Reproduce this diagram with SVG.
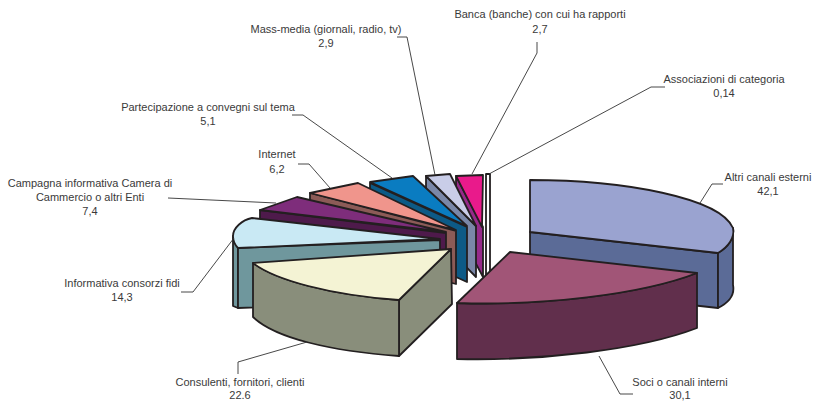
<svg xmlns="http://www.w3.org/2000/svg" width="813" height="402" viewBox="0 0 813 402">
  <style>
    .face { stroke: #231f20; stroke-width: 1.8; stroke-linejoin: round; }
    .lead { fill: none; stroke: #333; stroke-width: 0.9; }
    .lbl { font-family: "Liberation Sans", Arial, sans-serif; font-size: 11px; fill: #3a3a3a; text-anchor: middle; }
  </style>
  <rect width="813" height="402" fill="#ffffff"/>

  <!-- exploded 3D pie slices, drawn back to front -->
  <g id="slice-associazioni">
    <path class="face" d="M486,174 L490,174 L490,277 L486,277 Z" fill="#ffffff"/>
  </g>
  <g id="slice-banca">
    <path class="face" d="M456,176 L483,227 L483,277 L456,226 Z" fill="#962a8a"/>
    <path class="face" d="M456,176 L483,175 L482,227 Z" fill="#e91a8b"/>
  </g>
  <g id="slice-massmedia">
    <path class="face" d="M426,176 L476,226 L476,277 L426,226 Z" fill="#7a87a8"/>
    <path class="face" d="M426,176 L450,174 L476,226 Z" fill="#c9cde8"/>
  </g>
  <g id="slice-partecipazione">
    <path class="face" d="M370,183 L467,227 L467,282 L370,238 Z" fill="#0d5a86"/>
    <path class="face" d="M370,182 L413,176 L467,226 Z" fill="#0a7cc1"/>
  </g>
  <g id="slice-internet">
    <path class="face" d="M310,193 L456,231 L456,284 L310,247 Z" fill="#8c5b57"/>
    <path class="face" d="M310,193 L358,183 L456,230 Z" fill="#f0958c"/>
  </g>
  <g id="slice-campagna">
    <path class="face" d="M260,210 L446,233 L446,288 L260,265 Z" fill="#4e1a4b"/>
    <path class="face" d="M260,210 L297,197 L446,232 Z" fill="#7e2d7b"/>
  </g>
  <g id="slice-informativa">
    <path class="face" d="M233,236 L238,248 L238,308 L233,306 Z" fill="#6f979d"/>
    <path class="face" d="M238,248 L440,240 L440,300 L238,308 Z" fill="#6f979d"/>
    <path class="face" d="M252,218 L440,239 L238,248 C235,245 233,240 233,236 C233,228 242,220 252,218 Z" fill="#c9e9f4"/>
  </g>
  <g id="slice-consulenti">
    <path class="face" d="M399,300 L451,249 L452,304 L399,356 Z" fill="#898e7b"/>
    <path class="face" d="M253,263 C275,280 330,295 399,300 L399,356 C330,351 275,338 253,317 Z" fill="#898e7b"/>
    <path class="face" d="M253,263 L451,249 L399,300 C330,295 275,280 253,263 Z" fill="#f4f3d4"/>
  </g>
  <g id="slice-altri">
    <path class="face" d="M530,232 L718,253 L718,308 L530,287 Z" fill="#5b6b97"/>
    <path class="face" d="M718,253 C728,247 735,238 733,228 L733,285 C735,295 728,303 718,308 Z" fill="#5b6b97"/>
    <path class="face" d="M530,180 C625,180 720,198 733,228 C735,238 728,247 718,253 L530,232 Z" fill="#9aa3d0"/>
  </g>
  <g id="slice-soci">
    <path class="face" d="M457,303 C540,306 640,295 697,273 L697,328 C640,350 540,361 457,359 Z" fill="#612f4c"/>
    <path class="face" d="M510,252 L697,273 C640,295 540,306 457,303 Z" fill="#a15577"/>
  </g>

  <!-- leader lines -->
  <g id="connectors">
    <path class="lead" d="M397,37 L407,37 L435,175"/>
    <path class="lead" d="M537,42 L537,53 L472,174"/>
    <path class="lead" d="M665,87 L651,87 L489,174"/>
    <path class="lead" d="M723,184 L712,184 L700,203"/>
    <path class="lead" d="M292,115 L303,115 L392,178"/>
    <path class="lead" d="M298,164 L309,164 L330,188"/>
    <path class="lead" d="M168,198 L276,203"/>
    <path class="lead" d="M181,292 L193,292 L234,238"/>
    <path class="lead" d="M238,374 L238,362 L307,342"/>
    <path class="lead" d="M633,394 L620,394 L599,356"/>
  </g>

  <!-- labels -->
  <g id="labels">
    <text class="lbl" x="326" y="33">Mass-media (giornali, radio, tv)</text>
    <text class="lbl" x="326" y="47">2,9</text>
    <text class="lbl" x="540" y="18">Banca (banche) con cui ha rapporti</text>
    <text class="lbl" x="540" y="33">2,7</text>
    <text class="lbl" x="724" y="83">Associazioni di categoria</text>
    <text class="lbl" x="724" y="97">0,14</text>
    <text class="lbl" x="768" y="181">Altri canali esterni</text>
    <text class="lbl" x="768" y="195">42,1</text>
    <text class="lbl" x="208" y="111">Partecipazione a convegni sul tema</text>
    <text class="lbl" x="208" y="125">5,1</text>
    <text class="lbl" x="277" y="158">Internet</text>
    <text class="lbl" x="277" y="173">6,2</text>
    <text class="lbl" x="90" y="187">Campagna informativa Camera di</text>
    <text class="lbl" x="90" y="201">Cammercio o altri Enti</text>
    <text class="lbl" x="90" y="215">7,4</text>
    <text class="lbl" x="122" y="287">Informativa consorzi fidi</text>
    <text class="lbl" x="122" y="301">14,3</text>
    <text class="lbl" x="240" y="386">Consulenti, fornitori, clienti</text>
    <text class="lbl" x="240" y="399">22.6</text>
    <text class="lbl" x="680" y="386">Soci o canali interni</text>
    <text class="lbl" x="680" y="399">30,1</text>
  </g>
</svg>
